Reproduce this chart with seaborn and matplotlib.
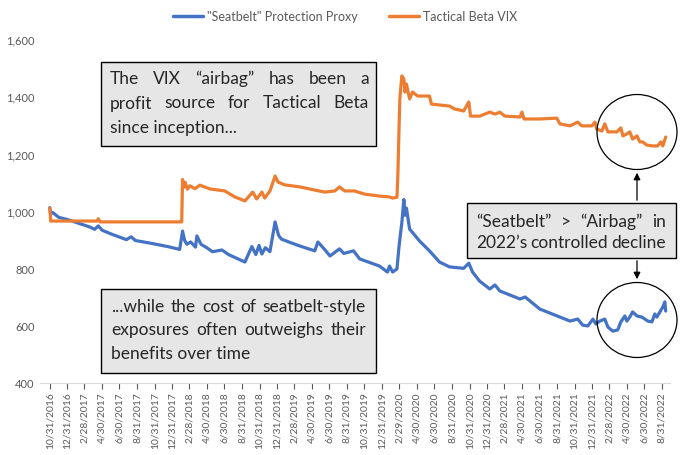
import pandas as pd
import seaborn as sns
import matplotlib.pyplot as plt
from matplotlib.lines import Line2D
from matplotlib.patches import Rectangle, Ellipse, FancyArrowPatch

# === Data ===
seatbelt_dates = [
    "2016-10-31", "2016-11-03", "2016-11-10", "2016-12-01", "2017-01-01", "2017-02-15",
    "2017-03-20", "2017-04-05", "2017-04-18", "2017-05-01", "2017-06-01", "2017-07-25",
    "2017-08-10", "2017-08-25", "2017-10-15", "2017-12-15", "2018-01-26", "2018-02-05",
    "2018-02-12", "2018-02-20", "2018-03-05", "2018-03-22", "2018-03-27", "2018-04-10",
    "2018-04-30", "2018-05-20", "2018-06-22", "2018-07-15", "2018-09-10", "2018-10-04",
    "2018-10-18", "2018-10-29", "2018-11-08", "2018-11-20", "2018-12-06", "2018-12-24",
    "2019-01-05", "2019-01-15", "2019-02-15", "2019-03-20", "2019-05-11", "2019-05-22",
    "2019-06-15", "2019-07-03", "2019-08-05", "2019-08-20", "2019-09-23", "2019-10-14",
    "2019-12-22", "2020-01-19", "2020-01-26", "2020-02-06", "2020-02-21", "2020-02-28",
    "2020-03-09", "2020-03-16", "2020-03-20", "2020-03-25", "2020-04-05", "2020-05-10",
    "2020-06-13", "2020-07-18", "2020-08-22", "2020-10-10", "2020-10-28", "2020-11-10",
    "2020-12-05", "2021-01-09", "2021-01-27", "2021-02-13", "2021-04-24", "2021-05-12",
    "2021-07-02", "2021-09-10", "2021-10-15", "2021-11-11", "2021-11-28", "2021-12-16",
    "2022-01-03", "2022-01-13", "2022-01-27", "2022-02-13", "2022-02-24", "2022-03-13",
    "2022-03-30", "2022-04-10", "2022-04-24", "2022-05-01", "2022-05-11", "2022-05-21",
    "2022-06-05", "2022-06-22", "2022-07-13", "2022-07-27", "2022-08-06", "2022-08-13",
    "2022-08-24", "2022-09-03", "2022-09-10", "2022-09-13",
]
seatbelt_values = [
    1012, 990, 995, 978, 970, 955,
    944, 936, 948, 933, 920, 900,
    910, 897, 888, 876, 866, 930,
    898, 884, 892, 874, 913, 884,
    872, 858, 864, 848, 822, 876,
    848, 880, 850, 872, 858, 962,
    915, 902, 890, 878, 861, 892,
    865, 843, 868, 852, 861, 833,
    808, 787, 808, 787, 798, 875,
    960, 1040, 985, 1010, 937, 895,
    861, 822, 805, 800, 818, 787,
    755, 728, 742, 721, 693, 700,
    658, 630, 616, 623, 602, 599,
    623, 606, 616, 623, 595, 581,
    585, 613, 634, 616, 630, 648,
    634, 630, 616, 613, 641, 630,
    648, 665, 683, 651,
]

vix_dates = [
    "2016-10-31", "2016-11-03", "2017-04-14", "2017-04-18", "2017-04-24", "2018-02-02",
    "2018-02-05", "2018-02-09", "2018-02-14", "2018-02-22", "2018-03-02", "2018-03-20",
    "2018-04-06", "2018-05-11", "2018-07-02", "2018-08-06", "2018-09-10", "2018-10-07",
    "2018-10-21", "2018-11-08", "2018-11-18", "2018-12-06", "2018-12-24", "2019-01-03",
    "2019-01-27", "2019-03-20", "2019-05-11", "2019-06-15", "2019-07-20", "2019-08-05",
    "2019-08-23", "2019-09-26", "2019-10-31", "2019-12-22", "2020-01-26", "2020-02-06",
    "2020-02-21", "2020-02-24", "2020-02-27", "2020-03-02", "2020-03-09", "2020-03-16",
    "2020-03-20", "2020-03-25", "2020-04-05", "2020-04-15", "2020-05-03", "2020-06-13",
    "2020-06-20", "2020-08-22", "2020-09-08", "2020-10-10", "2020-10-28", "2020-11-03",
    "2020-12-05", "2020-12-22", "2021-01-09", "2021-01-27", "2021-02-13", "2021-03-02",
    "2021-04-24", "2021-05-01", "2021-05-08", "2021-07-02", "2021-08-30", "2021-09-10",
    "2021-10-15", "2021-11-11", "2021-11-25", "2021-12-30", "2022-01-10", "2022-01-16",
    "2022-02-03", "2022-02-13", "2022-02-24", "2022-03-27", "2022-04-10", "2022-04-17",
    "2022-05-01", "2022-05-11", "2022-05-21", "2022-06-05", "2022-06-15", "2022-06-25",
    "2022-07-09", "2022-07-30", "2022-08-16", "2022-08-27", "2022-09-03", "2022-09-13",
]
vix_values = [
    1010, 965, 965, 973, 962, 962,
    1110, 1082, 1100, 1076, 1088, 1078,
    1090, 1077, 1070, 1049, 1035, 1066,
    1042, 1066, 1045, 1070, 1122, 1101,
    1091, 1084, 1073, 1066, 1070, 1084,
    1070, 1070, 1059, 1052, 1049, 1045,
    1048, 1122, 1241, 1391, 1471, 1460,
    1415, 1443, 1391, 1415, 1401, 1401,
    1373, 1366, 1356, 1349, 1380, 1331,
    1331, 1338, 1345, 1338, 1345, 1331,
    1328, 1345, 1321, 1321, 1324, 1304,
    1297, 1310, 1297, 1297, 1310, 1286,
    1279, 1304, 1276, 1276, 1290, 1262,
    1269, 1276, 1251, 1262, 1241, 1241,
    1230, 1227, 1227, 1241, 1227, 1258,
]

series_names = ['"Seatbelt" Protection Proxy', "Tactical Beta VIX"]
series_colors = ["#4472C4", "#ED7D31"]

tick_dates = pd.date_range("2016-10-31", "2022-08-31", freq="2ME")
tick_labels = [f"{d.month}/{d.day}/{d.year}" for d in tick_dates]
y_ticks = [400, 600, 800, 1000, 1200, 1400, 1600]

# === Build long-form frame ===
df = pd.concat([
    pd.DataFrame({"Date": pd.to_datetime(seatbelt_dates), "Value": seatbelt_values,
                  "Series": series_names[0]}),
    pd.DataFrame({"Date": pd.to_datetime(vix_dates), "Value": vix_values,
                  "Series": series_names[1]}),
])

sns.set_style("white")
plt.rcParams["font.family"] = ["Lato", "DejaVu Sans"]

W, H = 690, 456
fig = plt.figure(figsize=(W / 100, H / 100), dpi=100)
ax = fig.add_axes([40 / W, 1 - 384 / H, (670 - 40) / W, (384 - 40) / H])

sns.lineplot(data=df, x="Date", y="Value", hue="Series", palette=series_colors,
             hue_order=series_names, linewidth=2.3, legend=False, ax=ax,
             solid_joinstyle="round")

ax.set_ylim(400, 1600)
ax.set_xlim(pd.Timestamp("2016-09-27"), pd.Timestamp("2022-09-28"))
ax.set_yticks(y_ticks)
ax.set_yticklabels([f"{v:,}" for v in y_ticks])
ax.set_xticks(tick_dates)
ax.set_xticklabels(tick_labels, rotation=90)
ax.set_xlabel("")
ax.set_ylabel("")
for s in ["top", "right", "left"]:
    ax.spines[s].set_visible(False)
ax.spines["bottom"].set_color("#D9D9D9")
ax.tick_params(axis="y", length=0, labelsize=8, colors="#595959", pad=4)
ax.tick_params(axis="x", length=4, labelsize=7.4, colors="#595959", pad=2,
               direction="out", bottom=True)
for t in ax.get_xticklines():
    t.set_color("#D9D9D9")

# legend
handles = [Line2D([], [], color=c, linewidth=2.5) for c in series_colors]
fig.legend(handles, series_names, loc="center", bbox_to_anchor=(345 / W, 1 - 17 / H),
           ncol=2, frameon=False, fontsize=9, labelcolor="#595959",
           handlelength=2.4, handletextpad=0.3, columnspacing=2.5)


# === Annotations (pixel coordinates of the figure) ===
def fx(x):
    return x / W


def fy(y):
    return 1 - y / H


renderer = fig.canvas.get_renderer()


def text_box(x0, y0, x1, y1, lines, tx0, tx1, ty0, line_h, size, justify_last=False):
    fig.patches.append(Rectangle((fx(x0), fy(y1)), fx(x1) - fx(x0), fy(y0) - fy(y1),
                                 transform=fig.transFigure, facecolor="#E7E6E6",
                                 edgecolor="black", linewidth=1.0))
    for i, line in enumerate(lines):
        y = fy(ty0 + i * line_h)
        words = line.split()
        last = i == len(lines) - 1
        if (last and not justify_last) or len(words) == 1:
            fig.text(fx(tx0), y, line, fontsize=size, va="center", ha="left")
            continue
        arts = [fig.text(0, y, w, fontsize=size, va="center", ha="left") for w in words]
        widths = [a.get_window_extent(renderer).width for a in arts]
        gap = ((tx1 - tx0) - sum(widths)) / (len(words) - 1)
        x = tx0
        for a, w in zip(arts, widths):
            a.set_x(fx(x))
            x += w + gap


text_box(101, 63, 376, 147,
         ["The VIX \u201cairbag\u201d has been a",
          "profit source for Tactical Beta",
          "since inception..."],
         110, 369, 79, 24.5, 12.5)
text_box(101, 290, 376, 374,
         ["...while the cost of seatbelt-style",
          "exposures often outweighs their",
          "benefits over time"],
         111, 366, 307, 23.5, 12.5)
text_box(467, 204, 676, 259,
         ["\u201cSeatbelt\u201d > \u201cAirbag\u201d in",
          "2022\u2019s controlled decline"],
         476, 666, 222, 21.5, 12.5, justify_last=True)

# circles and arrows
for cy in [133, 321]:
    fig.patches.append(Ellipse((fx(637), fy(cy)), 80 / W, 75 / H,
                               transform=fig.transFigure, fill=False,
                               edgecolor="black", linewidth=0.9))
fig.patches.append(FancyArrowPatch((fx(637), fy(204)), (fx(637), fy(171)),
                                   transform=fig.transFigure, arrowstyle="-|>",
                                   mutation_scale=10, color="black", linewidth=0.9))
fig.patches.append(FancyArrowPatch((fx(637), fy(259)), (fx(637), fy(283)),
                                   transform=fig.transFigure, arrowstyle="-|>",
                                   mutation_scale=10, color="black", linewidth=0.9))

fig.savefig("out.png", dpi=100)
